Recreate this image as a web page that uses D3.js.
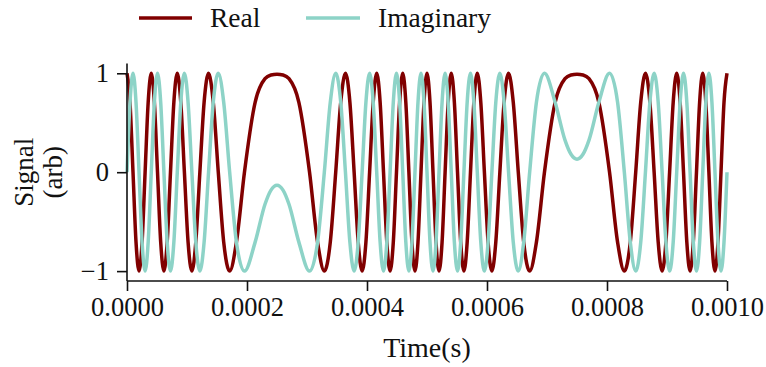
<!DOCTYPE html>
<html>
<head>
<meta charset="utf-8">
<script src="https://cdn.jsdelivr.net/npm/d3@7"></script>
<style>
  html, body { margin: 0; padding: 0; background: #fff; }
  svg text { font-family: "Liberation Serif", "DejaVu Serif", serif; fill: #111; }
</style>
</head>
<body>
<svg id="chart" width="766" height="367"></svg>
<script>
// time samples in microseconds
const timeUs = [
  0, 5.00, 10.01, 15.02, 20.05, 25.13, 30.18, 35.29, 40.43, 45.62, 50.86, 56.16, 61.52, 66.96, 72.48, 78.10,
  83.82, 89.67, 95.66, 101.80, 108.13, 114.67, 121.45, 128.52, 135.94, 143.77, 152.13, 161.17, 171.11, 182.37, 195.76, 213.55,
  230, 240, 250, 260, 270,
  286.45, 304.24, 317.63, 328.89, 338.83, 347.87, 356.23, 364.06, 371.48, 378.55, 385.33, 391.87, 398.20, 404.34, 410.33, 416.18,
  421.90, 427.52, 433.04, 438.48, 443.84, 449.14, 454.38, 459.57, 464.71, 469.82, 474.87, 479.95, 484.98, 489.99, 495.00, 500,
  505.00, 510.01, 515.02, 520.05, 525.13, 530.18, 535.29, 540.43, 545.62, 550.86, 556.16, 561.52, 566.96, 572.48, 578.10,
  583.82, 589.67, 595.66, 601.80, 608.13, 614.67, 621.45, 628.52, 635.94, 643.77, 652.13, 661.17, 671.11, 682.37, 695.76, 713.55,
  730, 740, 750, 760, 770,
  786.45, 804.24, 817.63, 828.89, 838.83, 847.87, 856.23, 864.06, 871.48, 878.55, 885.33, 891.87, 898.20, 904.34, 910.33, 916.18,
  921.90, 927.52, 933.04, 938.48, 943.84, 949.14, 954.38, 959.57, 964.71, 969.82, 974.87, 979.95, 984.98, 989.99, 995.00, 1000
];

const realValues = [
  1, 0.707, 0, -0.707, -1, -0.707, 0, 0.707, 1, 0.707, 0, -0.707, -1, -0.707, 0, 0.707,
  1, 0.707, 0, -0.707, -1, -0.707, 0, 0.707, 1, 0.707, 0, -0.707, -1, -0.707, 0, 0.707,
  0.946, 0.983, 0.991, 0.983, 0.946,
  0.707, 0, -0.707, -1, -0.707, 0, 0.707, 1, 0.707, 0, -0.707, -1, -0.707, 0, 0.707, 1,
  0.707, 0, -0.707, -1, -0.707, 0, 0.707, 1, 0.707, 0, -0.707, -1, -0.707, 0, 0.707, 1,
  0.707, 0, -0.707, -1, -0.707, 0, 0.707, 1, 0.707, 0, -0.707, -1, -0.707, 0, 0.707,
  1, 0.707, 0, -0.707, -1, -0.707, 0, 0.707, 1, 0.707, 0, -0.707, -1, -0.707, 0, 0.707,
  0.946, 0.983, 0.991, 0.983, 0.946,
  0.707, 0, -0.707, -1, -0.707, 0, 0.707, 1, 0.707, 0, -0.707, -1, -0.707, 0, 0.707, 1,
  0.707, 0, -0.707, -1, -0.707, 0, 0.707, 1, 0.707, 0, -0.707, -1, -0.707, 0, 0.707, 1
];

const imagValues = [
  0, 0.707, 1, 0.707, 0, -0.707, -1, -0.707, 0, 0.707, 1, 0.707, 0, -0.707, -1, -0.707,
  0, 0.707, 1, 0.707, 0, -0.707, -1, -0.707, 0, 0.707, 1, 0.707, 0, -0.707, -1, -0.707,
  -0.324, -0.181, -0.132, -0.181, -0.324,
  -0.707, -1, -0.707, 0, 0.707, 1, 0.707, 0, -0.707, -1, -0.707, 0, 0.707, 1, 0.707, 0,
  -0.707, -1, -0.707, 0, 0.707, 1, 0.707, 0, -0.707, -1, -0.707, 0, 0.707, 1, 0.707, 0,
  -0.707, -1, -0.707, 0, 0.707, 1, 0.707, 0, -0.707, -1, -0.707, 0, 0.707, 1, 0.707,
  0, -0.707, -1, -0.707, 0, 0.707, 1, 0.707, 0, -0.707, -1, -0.707, 0, 0.707, 1, 0.707,
  0.324, 0.181, 0.132, 0.181, 0.324,
  0.707, 1, 0.707, 0, -0.707, -1, -0.707, 0, 0.707, 1, 0.707, 0, -0.707, -1, -0.707, 0,
  0.707, 1, 0.707, 0, -0.707, -1, -0.707, 0, 0.707, 1, 0.707, 0, -0.707, -1, -0.707, 0
];

const seriesNames = ["Real", "Imaginary"];
const seriesColors = ["#800000", "#8dd3c7"];
const xTicks = [0, 0.0002, 0.0004, 0.0006, 0.0008, 0.0010];
const xTickLabels = ["0.0000", "0.0002", "0.0004", "0.0006", "0.0008", "0.0010"];
const yTicks = [-1, 0, 1];
const yTickLabels = ["\u22121", "0", "1"];
const xLabel = "Time(s)";
const yLabelLines = ["Signal", "(arb)"];

const svg = d3.select("#chart");
const margin = { left: 127, right: 39, top: 63.4, bottom: 86 };
const W = 766, H = 367;

const x = d3.scaleLinear().domain([0, 0.001]).range([margin.left, W - margin.right]);
const y = d3.scaleLinear().domain([-1.1, 1.1]).range([H - margin.bottom, margin.top]);

const series = [realValues, imagValues];
const line = d3.line()
  .x((d, i) => x(timeUs[i] * 1e-6))
  .y(d => y(d))
  .curve(d3.curveMonotoneX);

svg.append("g").selectAll("path")
  .data(series)
  .join("path")
  .attr("d", d => line(d))
  .attr("fill", "none")
  .attr("stroke", (d, i) => seriesColors[i])
  .attr("stroke-width", 3.5)
  .attr("stroke-linejoin", "round")
  .attr("stroke-linecap", "butt");

// axes
const xAxis = d3.axisBottom(x).tickValues(xTicks)
  .tickFormat((d, i) => xTickLabels[i]).tickSize(10).tickPadding(6);
const yAxis = d3.axisLeft(y).tickValues(yTicks)
  .tickFormat((d, i) => yTickLabels[i]).tickSize(10).tickPadding(8);

const gx = svg.append("g").attr("transform", `translate(0,${y(-1.1)})`).call(xAxis);
gx.select(".domain").attr("d", `M${x(0)},0H${x(0.001)}`);
const gy = svg.append("g").attr("transform", `translate(${x(0)},0)`).call(yAxis);
gy.select(".domain").attr("d", `M0,${y(1.1)}V${y(-1.1)}`);

[gx, gy].forEach(g => {
  g.selectAll(".domain").attr("stroke", "#111").attr("stroke-width", 1.6);
  g.selectAll(".tick line").attr("stroke", "#111").attr("stroke-width", 1.6);
  g.selectAll(".tick text").attr("font-size", 26.5).attr("fill", "#111")
    .attr("font-family", '"Liberation Serif", serif');
});

svg.append("text")
  .attr("x", (x(0) + x(0.001)) / 2)
  .attr("y", 357)
  .attr("text-anchor", "middle")
  .attr("font-size", 28)
  .text(xLabel);

const yl = svg.append("text")
  .attr("transform", `translate(0,${y(0)}) rotate(-90)`)
  .attr("text-anchor", "middle")
  .attr("font-size", 27);
yl.append("tspan").attr("x", 0).attr("y", 33).text(yLabelLines[0]);
yl.append("tspan").attr("x", 0).attr("y", 62).text(yLabelLines[1]);

// legend
const legendItems = [
  { x0: 139, x1: 192, tx: 210 },
  { x0: 306, x1: 360, tx: 378 }
];
const lg = svg.append("g");
legendItems.forEach((it, i) => {
  lg.append("line").attr("x1", it.x0).attr("x2", it.x1).attr("y1", 18).attr("y2", 18)
    .attr("stroke", seriesColors[i]).attr("stroke-width", 3.5);
  lg.append("text").attr("x", it.tx).attr("y", 27).attr("font-size", 27.5).text(seriesNames[i]);
});
</script>
</body>
</html>
